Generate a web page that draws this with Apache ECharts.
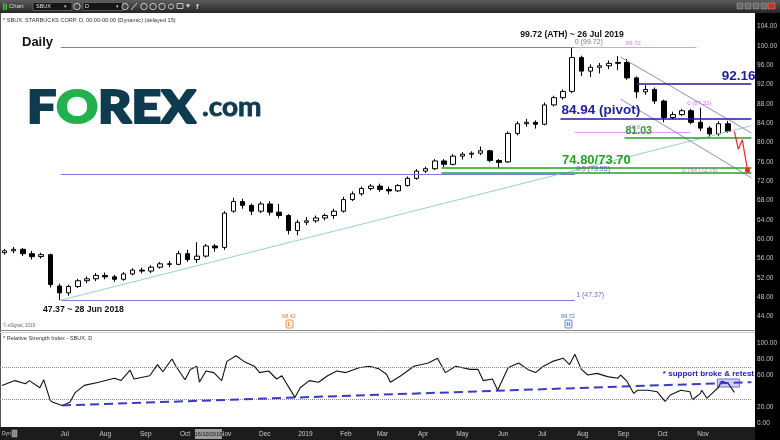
<!DOCTYPE html>
<html>
<head>
<meta charset="utf-8">
<script src="https://cdn.jsdelivr.net/npm/echarts@6/dist/echarts.min.js"></script>
<style>
html,body{margin:0;padding:0;background:#fff;overflow:hidden}
#chart{width:780px;height:440px}
</style>
</head>
<body>
<div id="chart"></div>
<script>
// ---------------- DATA ----------------
// Weekly candles (date = mid-week)
const weekDates = ['2018-05-16','2018-05-23','2018-05-30','2018-06-06','2018-06-13','2018-06-20','2018-06-27','2018-07-04','2018-07-11','2018-07-18','2018-07-25','2018-08-01','2018-08-08','2018-08-15','2018-08-22','2018-08-29','2018-09-05','2018-09-12','2018-09-19','2018-09-26','2018-10-03','2018-10-10','2018-10-17','2018-10-24','2018-10-31','2018-11-07','2018-11-14','2018-11-21','2018-11-28','2018-12-05','2018-12-12','2018-12-19','2018-12-26','2019-01-02','2019-01-09','2019-01-16','2019-01-23','2019-01-30','2019-02-06','2019-02-13','2019-02-20','2019-02-27','2019-03-06','2019-03-13','2019-03-20','2019-03-27','2019-04-03','2019-04-10','2019-04-17','2019-04-24','2019-05-01','2019-05-08','2019-05-15','2019-05-22','2019-05-29','2019-06-05','2019-06-12','2019-06-19','2019-06-26','2019-07-03','2019-07-10','2019-07-17','2019-07-24','2019-07-31','2019-08-07','2019-08-14','2019-08-21','2019-08-28','2019-09-04','2019-09-11','2019-09-18','2019-09-25','2019-10-02','2019-10-09','2019-10-16','2019-10-23','2019-10-30','2019-11-06','2019-11-13','2019-11-20'];
const weekOpen  = [57.2,57.6,57.9,57.0,56.4,56.8,50.3,48.9,50.2,51.4,51.8,52.5,52.2,51.7,52.8,53.6,53.4,54.2,54.9,54.8,57.0,55.8,56.5,58.6,58.3,65.8,67.8,67.0,65.8,67.3,65.6,64.9,61.8,63.5,63.8,64.4,64.9,65.8,68.2,69.4,70.5,71.0,70.3,70.0,71.1,72.6,74.1,74.6,76.2,75.5,77.2,77.6,77.8,78.3,76.3,76.0,81.9,83.9,84.2,83.8,87.8,89.3,90.6,97.6,94.8,95.6,95.9,96.4,96.6,93.4,90.5,91.0,88.6,85.2,85.8,86.6,84.2,83.0,81.8,83.9];
const weekClose = [57.6,57.9,57.0,56.4,56.8,50.6,48.9,50.2,51.4,51.8,52.5,52.2,51.7,52.8,53.6,53.4,54.2,54.9,54.8,57.0,55.8,56.5,58.6,58.2,65.4,67.8,67.0,65.8,67.3,65.6,64.9,61.8,63.5,63.8,64.4,64.9,65.8,68.2,69.4,70.5,71.0,70.3,70.0,71.1,72.6,74.1,74.6,76.2,75.5,77.2,77.6,77.8,78.3,76.3,75.9,81.9,83.9,84.2,83.8,87.8,89.3,90.6,97.6,94.8,95.6,95.9,96.4,96.6,93.4,90.5,91.0,88.6,85.2,85.8,86.6,84.2,83.0,81.8,83.9,82.3];
const weekLow   = [56.8,57.1,56.5,55.8,56.0,50.0,47.37,48.3,49.9,50.9,51.3,51.7,51.2,51.4,52.5,52.9,53.0,53.9,54.2,54.6,55.3,55.1,56.2,57.4,57.8,65.5,66.3,65.0,65.4,64.9,64.3,61.0,60.8,62.9,63.4,63.9,64.2,65.5,67.9,69.0,70.1,69.8,69.3,69.8,70.9,72.3,73.7,74.3,74.9,75.3,76.5,76.8,77.4,75.9,74.6,75.8,81.5,83.3,82.9,83.6,87.5,88.9,90.2,93.8,93.6,94.3,95.2,95.0,93.0,89.2,89.9,88.0,84.2,84.8,85.5,83.8,82.4,81.03,81.3,82.0];
const weekHigh  = [58.0,58.4,58.2,57.6,57.2,57.0,50.8,50.6,51.8,52.3,53.0,53.1,52.6,53.2,54.0,54.1,54.6,55.3,55.5,57.6,57.8,59.4,59.0,59.0,65.8,68.6,68.4,67.4,67.8,67.9,67.3,65.2,64.0,64.6,64.9,65.3,66.3,68.8,69.9,70.9,71.4,71.5,70.9,71.4,73.0,74.5,75.0,76.6,76.6,77.6,78.0,78.2,79.2,78.5,76.6,82.3,84.4,84.9,84.6,88.3,89.7,91.0,99.72,98.0,96.2,96.5,97.0,97.9,97.3,93.7,91.9,91.4,88.9,86.4,87.0,87.0,87.22,83.4,84.4,84.5];

// RSI (14)
const rsiDates = ['2018-05-14','2018-05-24','2018-06-01','2018-06-04','2018-06-12','2018-06-15','2018-06-20','2018-06-22','2018-06-29','2018-07-05','2018-07-09','2018-07-16','2018-07-27','2018-08-08','2018-08-13','2018-08-20','2018-08-23','2018-09-04','2018-09-10','2018-09-14','2018-09-21','2018-09-24','2018-10-01','2018-10-05','2018-10-10','2018-10-12','2018-10-17','2018-10-23','2018-10-29','2018-11-02','2018-11-09','2018-11-15','2018-11-23','2018-11-27','2018-12-04','2018-12-10','2018-12-14','2018-12-24','2018-12-28','2019-01-04','2019-01-11','2019-01-18','2019-01-25','2019-02-01','2019-02-11','2019-02-19','2019-02-26','2019-03-04','2019-03-07','2019-03-15','2019-03-25','2019-04-05','2019-04-12','2019-04-18','2019-04-26','2019-05-07','2019-05-13','2019-05-17','2019-05-24','2019-05-28','2019-06-05','2019-06-13','2019-06-20','2019-06-26','2019-07-02','2019-07-09','2019-07-17','2019-07-22','2019-07-26','2019-07-31','2019-08-05','2019-08-12','2019-08-20','2019-08-28','2019-08-30','2019-09-04','2019-09-09','2019-09-12','2019-09-20','2019-09-27','2019-10-03','2019-10-07','2019-10-15','2019-10-22','2019-10-24','2019-10-30','2019-10-31','2019-11-04','2019-11-08','2019-11-13','2019-11-15','2019-11-20','2019-11-25'];
const rsiValues = [47,53,49,53,44,54,28,26,22,26,38,47,51,56,53,66,55,59,73,64,80,71,54,67,71,51,65,63,53,77,84,77,71,63,65,55,59,32,44,53,51,59,65,63,69,71,68,61,51,59,71,75,81,63,71,67,67,53,55,41,69,75,67,63,71,77,81,73,86,67,60,62,58,56,60,52,37,41,41,39,27,35,41,39,29,37,41,31,37,45,52,50,38.3];

// Fibonacci retracement (blue) 47.37 -> 99.72
const fibDates  = ['2018-06-28','2019-07-26'];
const fibLevels = [99.72, 73.55, 47.37];
// Violet fib tool
const violetLevels = [99.72, 82.2];
const violetStart  = ['2019-07-26','2019-07-26'];
const violetEnd    = ['2019-10-27','2019-10-22'];
// Key levels
const keyLevels     = [92.16, 84.94, 81.03, 74.80, 73.70];
const keyLevelStart = ['2019-09-11','2019-07-15','2019-09-02','2019-04-15','2019-04-15'];
const keyLevelText  = ['92.16','84.94 (pivot)','81.03','74.80/73.70',''];
// Trendlines
const trendDates  = ['2018-06-28','2019-12-08'];
const trendPrices = [47.37, 83.5];
const chanDates   = ['2019-08-30','2019-12-08'];
const chanUpper   = [97.7, 82.0];
const chanLower   = [89.0, 72.7];
// Projected path (red)
const projDates  = ['2019-11-25','2019-11-28','2019-12-01','2019-12-05'];
const projPrices = [82.3, 78.6, 80.6, 74.3];
const lastPrice = 82.30;
// Small level notes
const noteTexts  = ['0 (99.72)','0.5 (73.55)','1 (47.37)','99.72','0 (87.22)','0.764 (72.78)','61.8'];
const noteDates  = ['2019-07-26','2019-07-27','2019-07-27','2019-09-03','2019-10-20','2019-10-16','2019-09-05'];
const notePrices = [99.72, 73.55, 47.37, 99.72, 87.22, 72.78, 82.2];
// RSI annotations
const rsiLevels = [70, 30];
const rsiSupportDates  = ['2018-06-29','2019-12-08'];
const rsiSupportValues = [22, 51];
const retestDates  = ['2019-11-12','2019-11-29'];
const retestValues = [55, 45];
const rsiLast = 38.30;
const monthLabels = ['Jan','Feb','Mar','Apr','May','Jun','Jul','Aug','Sep','Oct','Nov','Dec'];
const labelRange = ['2018-06-20','2019-11-20'];

// ---------------- CHART ----------------
const FONT = '"Liberation Sans", Arial, sans-serif';
const ts = d => Date.parse(d.length === 10 ? d + 'T00:00:00Z' : d);
const xMin = ts('2018-05-12T13:00:00Z'), xMax = ts('2019-12-08T13:00:00Z');

const seg = (d1, v1, d2, v2, color, width, type, label) => [
  {coord: [ts(d1), v1], lineStyle: {color, width, type: type || 'solid'}, label: label || {show: false}},
  {coord: [ts(d2), v2]}
];

const mainLines = [];
fibLevels.forEach(v => mainLines.push(seg(fibDates[0], v, fibDates[1], v, '#7a7ae2', 1)));
violetLevels.forEach((v, i) => mainLines.push(seg(violetStart[i], v, violetEnd[i], v, '#e493f7', 1)));
mainLines.push(seg(trendDates[0], trendPrices[0], trendDates[1], trendPrices[1], '#93d3cb', 1));
mainLines.push(seg(chanDates[0], chanUpper[0], chanDates[1], chanUpper[1], '#8c8cd0', 1));
mainLines.push(seg(chanDates[0], chanLower[0], chanDates[1], chanLower[1], '#8c8cd0', 1));
const keyColors = ['#1e1e98','#1e1e98','#22a322','#22a322','#22a322'];
const keyPos = ['insideEndTop','insideStartTop','insideStartTop','insideMiddleTop','insideStartTop'];
const keySize = [13.5, 13.5, 10.5, 13, 10];
const keyDist = [[-4, 1], [1, 1], [1, 1], [1, 1], [1, 1]];
const endDate = trendDates[1];
keyLevels.forEach((v, i) => {
  mainLines.push(seg(keyLevelStart[i], v, endDate, v, keyColors[i], 1.5, 'solid', {
    show: !!keyLevelText[i], position: keyPos[i], formatter: keyLevelText[i],
    color: keyColors[i], fontWeight: 'bold', fontSize: keySize[i], fontFamily: FONT,
    distance: keyDist[i]
  }));
});
mainLines.push({yAxis: lastPrice, lineStyle: {opacity: 0}, label: {show: true, position: 'end', distance: 4,
  formatter: lastPrice.toFixed(2), color: '#ffffff', fontSize: 7, fontFamily: FONT}});

const noteColors = ['#4545c2','#4545c2','#4545c2','#c455e6','#c455e6','#c455e6','#c455e6'];
const noteSizes = [7, 7, 7, 6, 6, 6, 6];
const noteData = noteTexts.map((t, i) => ({
  value: [ts(noteDates[i]), notePrices[i]],
  label: {show: true, position: 'top', align: 'left', distance: i === 5 ? 4 : 1, formatter: t,
    color: noteColors[i], fontSize: noteSizes[i], fontFamily: FONT}
}));

const grad = (c1, c2) => ({type: 'linear', x: 0, y: 0, x2: 0, y2: 1, colorStops: [{offset: 0, color: c1}, {offset: 1, color: c2}]});
const LOGO_FONT = 'Lato, "Open Sans", sans-serif';

const graphic = [
  // toolbar
  {type: 'rect', z: -10, shape: {x: 0, y: 0, width: 780, height: 13}, style: {fill: grad('#5c5c5c', '#262626')}},
  {type: 'rect', z: 50, shape: {x: 3, y: 3, width: 1.5, height: 7}, style: {fill: '#3fbf3f'}},
  {type: 'rect', z: 50, shape: {x: 5.5, y: 4, width: 1.5, height: 6}, style: {fill: '#3fbf3f'}},
  {type: 'text', z: 50, style: {x: 9, y: 6.5, text: 'Chart', fill: '#d8d8d8', fontSize: 6, fontFamily: FONT, verticalAlign: 'middle'}},
  {type: 'rect', z: 50, shape: {x: 33, y: 2.5, width: 39, height: 8}, style: {fill: '#151515', stroke: '#808080', lineWidth: 0.6}},
  {type: 'text', z: 50, style: {x: 36, y: 6.5, text: 'SBUX', fill: '#e6e6e6', fontSize: 5.5, fontFamily: FONT, verticalAlign: 'middle'}},
  {type: 'text', z: 50, style: {x: 64, y: 6.5, text: '▾', fill: '#ccc', fontSize: 5, fontFamily: FONT, verticalAlign: 'middle'}},
  {type: 'circle', z: 50, shape: {cx: 77, cy: 6.5, r: 3.2}, style: {fill: 'none', stroke: '#cfcfcf', lineWidth: 0.9}},
  {type: 'rect', z: 50, shape: {x: 83, y: 2.5, width: 40, height: 8}, style: {fill: '#151515', stroke: '#808080', lineWidth: 0.6}},
  {type: 'text', z: 50, style: {x: 85, y: 6.5, text: 'D', fill: '#e6e6e6', fontSize: 5.5, fontFamily: FONT, verticalAlign: 'middle'}},
  {type: 'text', z: 50, style: {x: 116, y: 6.5, text: '▾', fill: '#ccc', fontSize: 5, fontFamily: FONT, verticalAlign: 'middle'}},
  {type: 'circle', z: 50, shape: {cx: 125, cy: 6.5, r: 3.2}, style: {fill: 'none', stroke: '#cfcfcf', lineWidth: 0.9}},
  {type: 'line', z: 50, shape: {x1: 131, y1: 10, x2: 137, y2: 3}, style: {stroke: '#cfcfcf', lineWidth: 1}},
  {type: 'circle', z: 50, shape: {cx: 144, cy: 6.5, r: 3.2}, style: {fill: 'none', stroke: '#cfcfcf', lineWidth: 0.9}},
  {type: 'circle', z: 50, shape: {cx: 153, cy: 6.5, r: 3.2}, style: {fill: 'none', stroke: '#cfcfcf', lineWidth: 0.9}},
  {type: 'circle', z: 50, shape: {cx: 162, cy: 6.5, r: 3.2}, style: {fill: 'none', stroke: '#cfcfcf', lineWidth: 0.9}},
  {type: 'circle', z: 50, shape: {cx: 171, cy: 6.5, r: 2.5}, style: {fill: 'none', stroke: '#cfcfcf', lineWidth: 0.9}},
  {type: 'rect', z: 50, shape: {x: 177, y: 3.5, width: 6, height: 5}, style: {fill: 'none', stroke: '#cfcfcf', lineWidth: 0.9}},
  {type: 'text', z: 50, style: {x: 186, y: 6.5, text: '♥', fill: '#cfcfcf', fontSize: 7, fontFamily: FONT, verticalAlign: 'middle'}},
  {type: 'text', z: 50, style: {x: 196, y: 6.5, text: 'f', fill: '#cfcfcf', fontSize: 8, fontWeight: 'bold', fontFamily: FONT, verticalAlign: 'middle'}},
  {type: 'rect', z: 50, shape: {x: 737, y: 3, width: 6, height: 6}, style: {fill: '#6a6a6a', stroke: '#aaa', lineWidth: 0.5}},
  {type: 'rect', z: 50, shape: {x: 745, y: 3, width: 6, height: 6}, style: {fill: '#6a6a6a', stroke: '#aaa', lineWidth: 0.5}},
  {type: 'rect', z: 50, shape: {x: 753, y: 3, width: 6, height: 6}, style: {fill: '#6a6a6a', stroke: '#aaa', lineWidth: 0.5}},
  {type: 'rect', z: 50, shape: {x: 761, y: 3, width: 6, height: 6}, style: {fill: '#6a6a6a', stroke: '#aaa', lineWidth: 0.5}},
  {type: 'rect', z: 50, shape: {x: 768, y: 3, width: 7, height: 6}, style: {fill: '#c8302c', stroke: '#e88', lineWidth: 0.5}},
  // right axis panel and bottom strip
  {type: 'rect', z: -10, shape: {x: 755, y: 13, width: 25, height: 427}, style: {fill: '#000'}},
  {type: 'rect', z: -10, shape: {x: 0, y: 427, width: 755, height: 13}, style: {fill: '#1c1c1c'}},
  {type: 'line', z: -5, shape: {x1: 0.5, y1: 13, x2: 0.5, y2: 427}, style: {stroke: '#555', lineWidth: 1}},
  {type: 'line', z: -5, shape: {x1: 0, y1: 330.5, x2: 755, y2: 330.5}, style: {stroke: '#8a8a8a', lineWidth: 1}},
  {type: 'line', z: -5, shape: {x1: 0, y1: 332.5, x2: 755, y2: 332.5}, style: {stroke: '#d0d0d0', lineWidth: 1}},
  // texts
  {type: 'text', z: 50, style: {x: 3, y: 20, text: '* SBUX, STARBUCKS CORP, D, 00:00-00:00 (Dynamic) (delayed 15)', fill: '#333', fontSize: 5.6, fontFamily: FONT, verticalAlign: 'middle'}},
  {type: 'text', z: 50, style: {x: 22, y: 42, text: 'Daily', fill: '#111', fontSize: 13, fontWeight: 'bold', fontFamily: FONT, verticalAlign: 'middle'}},
  {type: 'text', z: 50, style: {x: 572, y: 35, text: '99.72 (ATH) ~ 26 Jul 2019', fill: '#111', fontSize: 8.7, fontWeight: 'bold', fontFamily: FONT, align: 'center', verticalAlign: 'middle'}},
  {type: 'text', z: 50, style: {x: 43, y: 310, text: '47.37 ~ 28 Jun 2018', fill: '#111', fontSize: 8.7, fontWeight: 'bold', fontFamily: FONT, verticalAlign: 'middle'}},
  {type: 'text', z: 50, style: {x: 3, y: 326, text: '© eSignal, 2019', fill: '#666', fontSize: 4.5, fontFamily: FONT, verticalAlign: 'middle'}},
  {type: 'text', z: 50, style: {x: 289, y: 316, text: '68.42', fill: '#e07a2a', fontSize: 5.5, fontFamily: FONT, align: 'center', verticalAlign: 'middle'}},
  {type: 'rect', z: 50, shape: {x: 286, y: 320, width: 7, height: 8, r: 1}, style: {fill: '#fff3e6', stroke: '#e07a2a', lineWidth: 0.8}},
  {type: 'text', z: 51, style: {x: 289.5, y: 324, text: 'L', fill: '#e07a2a', fontSize: 5.5, fontWeight: 'bold', fontFamily: FONT, align: 'center', verticalAlign: 'middle'}},
  {type: 'text', z: 50, style: {x: 568, y: 316, text: '99.72', fill: '#4a6ad0', fontSize: 5.5, fontFamily: FONT, align: 'center', verticalAlign: 'middle'}},
  {type: 'rect', z: 50, shape: {x: 565, y: 320, width: 7, height: 8, r: 1}, style: {fill: '#eef2ff', stroke: '#4a6ad0', lineWidth: 0.8}},
  {type: 'text', z: 51, style: {x: 568.5, y: 324, text: 'H', fill: '#4a6ad0', fontSize: 5.5, fontWeight: 'bold', fontFamily: FONT, align: 'center', verticalAlign: 'middle'}},
  {type: 'text', z: 50, style: {x: 3, y: 338, text: '* Relative Strength Index - SBUX, D', fill: '#333', fontSize: 5.6, fontFamily: FONT, verticalAlign: 'middle'}},
  {type: 'text', z: 50, style: {x: 754, y: 374, text: '* support broke & retest', fill: '#2222b4', fontSize: 8, fontWeight: 'bold', fontFamily: FONT, align: 'right', verticalAlign: 'middle'}},
  {type: 'text', z: 50, style: {x: 2, y: 434, text: 'Dyn', fill: '#cfcfcf', fontSize: 5, fontFamily: FONT, verticalAlign: 'middle'}},
  {type: 'rect', z: 50, shape: {x: 12, y: 430, width: 5, height: 7}, style: {fill: '#888', stroke: '#bbb', lineWidth: 0.5}},
  {type: 'rect', z: 50, shape: {x: 195, y: 429, width: 27, height: 10}, style: {fill: '#9c9c9c'}},
  {type: 'text', z: 51, style: {x: 208.5, y: 434, text: '16/10/2018', fill: '#111', fontSize: 5.5, fontFamily: FONT, align: 'center', verticalAlign: 'middle'}},
  // FOREX.com logo
  {type: 'text', z: 60, scaleX: 1.12, x: 27, y: 0, style: {x: 0, y: 108, text: '{n|F}{g|O}{n|REX}', verticalAlign: 'middle',
    rich: {n: {fontSize: 46, fontWeight: 900, fontFamily: LOGO_FONT, fill: '#0f3b50', stroke: '#0f3b50', lineWidth: 2.2},
           g: {fontSize: 46, fontWeight: 900, fontFamily: LOGO_FONT, fill: '#24b04c', stroke: '#24b04c', lineWidth: 2.2}}}},
  {type: 'text', z: 60, scaleX: 1.08, x: 202, y: 0, style: {x: 0, y: 108, text: '.com', fill: '#0f3b50', stroke: '#0f3b50', lineWidth: 0.8, fontSize: 26, fontWeight: 'bold', fontFamily: LOGO_FONT, verticalAlign: 'middle'}}
];

const option = {
  animation: false,
  useUTC: true,
  backgroundColor: '#ffffff',
  textStyle: {fontFamily: FONT},
  graphic: graphic,
  grid: [
    {left: 0, right: 25, top: 7.36, bottom: 104.2},
    {left: 0, right: 25, top: 343, height: 80}
  ],
  xAxis: [
    {type: 'time', gridIndex: 0, min: xMin, max: xMax, show: false},
    {type: 'time', gridIndex: 1, min: xMin, max: xMax, splitNumber: 19,
      minInterval: 25 * 864e5, maxInterval: 35 * 864e5,
      axisLine: {show: false}, axisTick: {show: false}, splitLine: {show: false},
      axisLabel: {color: '#c8c8c8', fontSize: 6.5, margin: 8, fontFamily: FONT, hideOverlap: false,
        formatter: v => {
          if (v < ts(labelRange[0]) || v > ts(labelRange[1])) return '';
          const d = new Date(v); const m = d.getUTCMonth();
          return m === 0 ? String(d.getUTCFullYear()) : monthLabels[m];
        }}}
  ],
  yAxis: [
    {type: 'value', gridIndex: 0, position: 'right', min: 40, max: 108, interval: 4,
      axisLine: {show: false}, axisTick: {show: false}, splitLine: {show: false},
      axisLabel: {color: '#c4c4c4', fontSize: 6.5, margin: 5, fontFamily: FONT,
        formatter: v => (v < 44 || v > 104) ? '' : v.toFixed(2)}},
    {type: 'value', gridIndex: 1, position: 'right', min: 0, max: 100, interval: 20,
      axisLine: {show: false}, axisTick: {show: false}, splitLine: {show: false},
      axisLabel: {color: '#c4c4c4', fontSize: 6.5, margin: 5, fontFamily: FONT,
        formatter: v => v === 40 ? '' : v.toFixed(2)}}
  ],
  series: [
    {
      name: 'SBUX', type: 'candlestick', xAxisIndex: 0, yAxisIndex: 0,
      encode: {x: 0, y: [1, 2, 3, 4]},
      data: weekDates.map((d, i) => [ts(d), weekOpen[i], weekClose[i], weekLow[i], weekHigh[i]]),
      barWidth: 5,
      itemStyle: {color: '#ffffff', color0: '#000000', borderColor: '#000000', borderColor0: '#000000', borderWidth: 1},
      markLine: {silent: true, symbol: ['none', 'none'], animation: false, data: mainLines},
      z: 3
    },
    {
      name: 'Projection', type: 'line', xAxisIndex: 0, yAxisIndex: 0,
      data: projDates.map((d, i) => [ts(d), projPrices[i]]),
      lineStyle: {color: '#ff2222', width: 1.2},
      itemStyle: {color: '#ff2222'},
      symbol: (v, p) => p.dataIndex === projDates.length - 1 ? 'circle' : 'none',
      symbolSize: 5, showSymbol: true, z: 5
    },
    {
      name: 'Notes', type: 'scatter', xAxisIndex: 0, yAxisIndex: 0,
      symbolSize: 1, itemStyle: {color: 'rgba(0,0,0,0)'}, data: noteData, z: 6
    },
    {
      name: 'RSI', type: 'line', xAxisIndex: 1, yAxisIndex: 1,
      data: rsiDates.map((d, i) => [ts(d), rsiValues[i]]),
      symbol: 'none', lineStyle: {color: '#111', width: 1.1},
      markLine: {silent: true, symbol: ['none', 'none'], animation: false, data: [
        ...rsiLevels.map(v => ({yAxis: v, lineStyle: {type: 'dotted', color: '#8a8a8a', width: 1}, label: {show: false}})),
        seg(rsiSupportDates[0], rsiSupportValues[0], rsiSupportDates[1], rsiSupportValues[1], '#3a3ac8', 2, [9, 5]),
        {yAxis: rsiLast, lineStyle: {opacity: 0}, label: {show: true, position: 'end', distance: 4,
          formatter: rsiLast.toFixed(2), color: '#ffffff', fontSize: 6.5, fontFamily: FONT}}
      ]},
      markArea: {silent: true, data: [[
        {coord: [ts(retestDates[0]), retestValues[0]], itemStyle: {color: 'rgba(150,150,228,0.45)', borderColor: '#7070d0', borderWidth: 1}},
        {coord: [ts(retestDates[1]), retestValues[1]]}
      ]]},
      z: 4
    }
  ]
};

const chart = echarts.init(document.getElementById('chart'), null, {renderer: 'canvas', width: 780, height: 440});
chart.setOption(option);
</script>
</body>
</html>
